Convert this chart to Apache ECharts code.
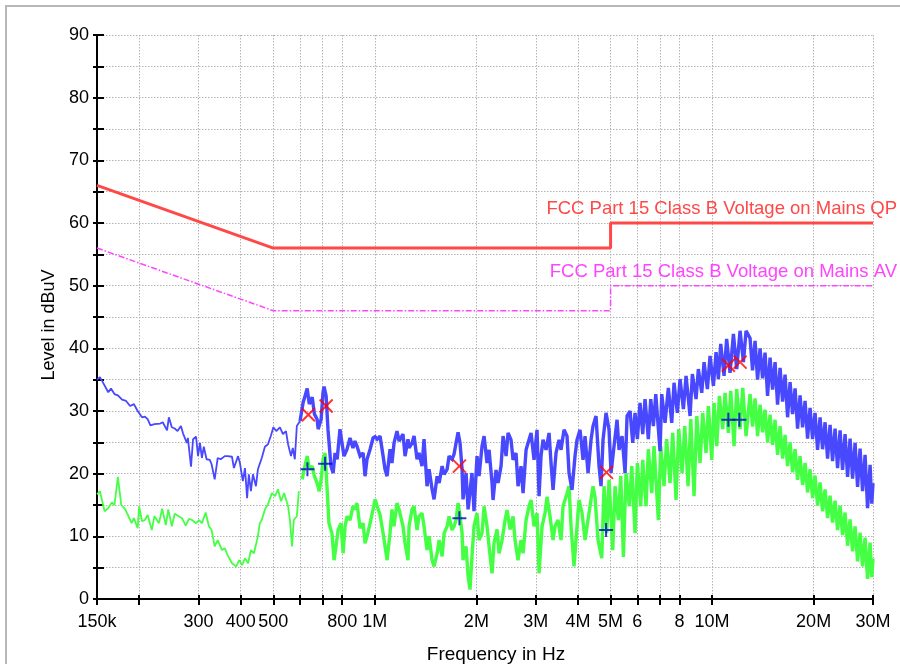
<!DOCTYPE html>
<html><head><meta charset="utf-8">
<script src="https://cdn.jsdelivr.net/npm/echarts@6/dist/echarts.min.js"></script>
<style>
html,body{margin:0;padding:0;background:#fff;}
body{width:900px;height:664px;overflow:hidden;position:relative;}
#frame{position:absolute;left:5px;top:5px;width:940px;height:700px;border-top:2px solid #b8b8b8;border-left:2px solid #b8b8b8;}
#chart{position:absolute;left:0;top:0;width:900px;height:664px;}
</style></head><body>
<div id="frame"></div><div id="chart"></div>
<script>
// ---- tick definitions (frequency in kHz) ----
const xTickKHz = [150,200,300,400,500,600,700,800,1000,2000,3000,4000,5000,6000,7000,8000,10000,20000,30000];
const xTickLabels = ['150k','','300','400','500','','','800','1M','2M','3M','4M','5M','6','','8','10M','20M','30M'];

// ---- limit lines [kHz, dBuV] ----
const qpLimit = [[150,66],[500,56],[5000,56],[5000,60],[30000,60]];
const avLimit = [[150,56],[500,46],[5000,46],[5000,50],[30000,50]];

// ---- peak trace (blue) [kHz, dBuV] ----
const peakSweep = [[150,35],[153,35.4],[156,34.6],[162,33],[165,33.6],[169,32.7],[173,32.5],[178,31.8],[183,31.6],[188,30.8],[193,31.1],[198,30],[204,29],[208,29.1],[212,28.7],[216,27.7],[222,27.9],[231,28],[235,28.2],[242,26.9],[245,29],[250,27.4],[255,27.2],[260,26.8],[266,27.6],[270,26.4],[277,24.9],[279,25.7],[285,21.1],[289,25.5],[295,25.9],[299,22.8],[303,24.9],[307,22.5],[311,24.3],[317,22.3],[324,22.2],[328,21.5],[335,19.1],[342,22.5],[349,22.3],[359,22.8],[366,22.8],[377,22.7],[382,20.9],[393,22.8],[398,21.7],[406,18.8],[412,20.9],[418,16.1],[423,19.9],[429,17.2],[435,19.9],[444,18],[450,20.7],[462,22.5],[472,24.3],[482,24.7],[492,26.1],[500,27.4],[510,26.8],[523,27.4],[534,26.3],[545,26.8],[553,24.7],[564,22.8],[571,24.1],[579,22.3],[587,27.6],[600,28.4],[613,31.4],[621,32.4],[630,33.6],[639,31.1],[652,32.2],[662,29.5],[674,28.7],[679,27.1],[693,28.7],[702,33],[707,33.9],[717,32.4],[726,27.1],[741,21.2],[752,20.1],[762,23.3],[773,22.3],[788,27.1],[799,24.9],[810,22.8],[827,23.9],[844,25.7],[861,24.1],[873,25.2],[885,24.4],[904,22.8],[923,23.3],[935,19.6],[948,22.3],[968,23.9],[988,25.7],[1002,25.9],[1016,25.5],[1036,26],[1058,22.8],[1072,20.7],[1087,19.6],[1109,23.9],[1124,21.7],[1140,24.9],[1163,26.8],[1180,25.2],[1212,26.3],[1229,22.8],[1254,25.5],[1263,24.1],[1289,24.9],[1307,26],[1334,22.3],[1352,23.3],[1380,21.2],[1399,25.5],[1428,18],[1448,20.7],[1478,17.5],[1498,15.9],[1530,19.6],[1551,18.5],[1583,21.2],[1605,19.9],[1638,20.7],[1660,22.8],[1694,22.3],[1717,23.1],[1741,24.9],[1765,26.6],[1789,24.9],[1814,20.7],[1826,15.9],[1864,20.1],[1890,14.3],[1902,14],[1941,20.1],[1968,14],[2009,22.8],[2037,19.6],[2079,24.4],[2108,26],[2151,21.7],[2181,23.8],[2226,18.5],[2241,15.8],[2287,20.6],[2319,18.5],[2367,21.2],[2400,26],[2450,22.8],[2483,26.5],[2534,25.4],[2569,22.2],[2622,23.3],[2658,18],[2713,21.2],[2751,16.9],[2808,23.8],[2865,25.4],[2905,26.5],[2965,22.2],[3026,27],[3068,16.4],[3110,22.8],[3153,25.4],[3218,23.8],[3285,26.5],[3330,21.7],[3376,17.4],[3445,23.3],[3517,25.4],[3565,23.8],[3639,27],[3714,26],[3765,20.1],[3843,17.4],[3922,22.8],[3976,25.4],[4059,27],[4143,22.2],[4200,26],[4287,20.1],[4375,25.4],[4435,27.6],[4527,29.2],[4621,21.2],[4685,18],[4749,25.4],[4848,29.7],[4948,27],[5016,20.1],[5120,24.4],[5226,28.6],[5298,23.8],[5408,26],[5520,20.1],[5596,29.2],[5711,30],[5817,24.9],[5909,29.7],[6003,25.5],[6114,31.3],[6228,26.3],[6326,31.9],[6471,25.5],[6578,31.9],[6697,27.6],[6807,32.7],[7009,23.6],[7091,32.7],[7252,28.1],[7418,33.7],[7592,28.1],[7712,34.5],[7888,29.7],[8035,35.1],[8221,30.3],[8371,35.6],[8603,29.2],[8740,35.9],[8963,31.9],[9105,36.7],[9318,32.9],[9466,37.8],[9683,33.5],[9862,38.8],[10090,34],[10274,39.4],[10438,35.1],[10609,40.7],[10851,35.6],[11044,41.5],[11305,36.1],[11567,42.3],[11830,36.7],[12104,42.8],[12384,37.8],[12610,42.8]];

// ---- average trace (green) [kHz, dBuV] ----
const avgSweep = [[150,16.7],[153,17.2],[158,14],[162,14.5],[166,15.4],[169,15],[173,19.5],[177,15],[182,14.3],[186,13.2],[190,12.1],[193,12.9],[198,11.3],[200,14.8],[204,12.4],[208,12.6],[212,13.4],[218,11],[222,13.2],[229,12.1],[234,14.4],[240,11.8],[244,14.3],[250,11.6],[255,13.6],[262,13.2],[268,12.9],[275,11.7],[281,12.8],[287,12.6],[295,12.1],[301,12.6],[307,12.1],[315,13.8],[322,11.6],[328,11],[335,8.4],[342,9.4],[352,7.8],[359,8.1],[366,7],[377,5.7],[388,5.2],[396,6.2],[404,5.4],[412,6.5],[421,5.7],[429,7.8],[438,7.3],[450,10],[456,12.1],[462,12.6],[472,14.3],[482,15.1],[495,16.9],[506,16.4],[516,17.5],[527,15.6],[538,16.9],[553,14.8],[560,12.6],[568,8.4],[575,12.6],[587,13.2],[595,17.2],[609,19.1],[617,20.7],[630,22.8],[639,20.7],[652,21.2],[662,19.6],[674,18.5],[684,17.2],[693,19.1],[702,22.3],[712,23.3],[721,18],[731,12.1],[746,10.5],[757,6.2],[767,8.4],[778,11],[794,12.1],[805,7.3],[816,11.6],[827,13.2],[844,12.6],[861,14.8],[873,14.3],[885,15.3],[904,11.3],[923,12.1],[935,8.9],[948,10],[968,12.1],[988,14.3],[1002,15.9],[1016,14.8],[1036,13.4],[1058,10.5],[1072,8.4],[1087,6.2],[1109,10.5],[1124,14.3],[1140,11.6],[1163,15.3],[1180,14.3],[1212,11.6],[1229,8.9],[1254,6.2],[1263,11.6],[1289,14.3],[1307,14.8],[1334,11],[1352,13.2],[1380,13.7],[1399,11.6],[1428,7.8],[1448,10],[1478,6.2],[1498,5.2],[1530,7.3],[1551,9.4],[1583,6.8],[1605,10.5],[1638,11.6],[1660,13.2],[1694,11],[1717,11.6],[1741,12.6],[1765,15.3],[1789,13.2],[1814,10.5],[1826,6.2],[1864,8.4],[1890,3.6],[1915,1.5],[1941,6.8],[1968,11.6],[2009,13.7],[2037,9.4],[2079,10.5],[2108,14.8],[2151,11.6],[2181,8.4],[2226,4.1],[2256,8.9],[2303,11.1],[2335,7.3],[2384,9.4],[2433,12.6],[2467,14.2],[2517,11.1],[2569,13.2],[2604,9.4],[2658,6.2],[2713,9.4],[2751,7.3],[2808,12.6],[2865,14.8],[2905,15.8],[2965,11.6],[3026,13.7],[3068,4.1],[3132,11.6],[3196,13.7],[3240,16.3],[3307,13.2],[3376,9.4],[3422,11.6],[3493,12.6],[3565,9.4],[3614,14.8],[3689,16.3],[3765,18],[3817,11.6],[3896,5.2],[3976,11.6],[4031,15.8],[4115,13.7],[4200,9.4],[4258,11.6],[4346,14.8],[4435,18],[4496,16.3],[4590,9.4],[4707,6.5],[4782,18],[4870,10.5],[4948,19],[5075,7.8],[5155,18],[5273,12.6],[5360,19.6],[5457,6.7],[5557,20.1],[5684,14.8],[5778,21.2],[5909,10.5],[6003,21.7],[6143,14.8],[6228,22.2],[6369,14.8],[6471,23.9],[6623,16.9],[6727,24.4],[6928,12.6],[7043,24.4],[7203,18],[7333,25.5],[7504,18.5],[7644,26.5],[7818,15.8],[7965,27.1],[8145,20.1],[8297,27.6],[8486,18],[8645,28.7],[8841,16.4],[9008,29.2],[9211,21.7],[9381,29.7],[9596,23.3],[9749,30.8],[9978,22.2],[10135,31.3],[10323,24.4],[10509,32.4],[10753,27.1],[10925,32.9],[11175,26.5],[11360,33.2],[11618,24.4],[11830,33.5],[12104,27.1],[12329,33.7],[12610,26]];

// ---- high-frequency section, both traces on the same sweep points ----
const hfFreqKHz = [12959,13183,13410,13641,13875,14114,14357,14604,14856,15111,15372,15636,15906,16180,16458,16742,17030,17323,17622,17925,18233,18547,18867,19191,19522,19858,20200,20547,20901,21261,21627,21999,22378,22763,23155,23554,23960,24372,24792,25219,25653,26095,26544,27001,27466,27939,28420,28909,29407,29750,30000];
const hfPeak = [41.6,36.5,41.2,35.0,40.0,35.2,39.3,32.4,38.5,33.4,37.8,31.0,36.9,31.5,35.8,29.0,34.6,29.5,33.6,27.2,32.5,27.4,31.6,25.6,30.5,25.5,29.7,23.8,29.0,23.9,28.2,22.4,27.8,22.0,27.2,20.9,26.9,20.6,26.3,19.5,25.6,19.2,24.9,17.9,24.0,17.2,23.0,14.5,21.4,15.2,18.5];
const hfAvg = [32.7,27.5,32.0,26.0,31.0,26.6,30.2,25.0,29.4,24.6,28.6,23.0,27.6,22.4,26.2,21.2,25.0,20.2,23.9,19.0,22.8,18.2,21.7,17.0,20.7,16.1,19.7,14.9,18.6,14.0,17.5,12.9,16.5,12.2,15.7,11.0,14.9,10.2,13.8,8.5,12.7,7.6,11.6,6.0,10.6,5.2,9.8,3.2,9.0,3.5,6.5];

// ---- final measurement markers [kHz, dBuV] ----
const qpMarks = [[635,29.4],[717,30.8],[1781,21.2],[4862,20.2],[11175,37.3],[12104,37.8]];
const avMarks = [[631,20.7],[712,21.6],[1781,12.9],[4849,11],[11175,28.6],[12046,28.6]];

// sweep split point (kHz): below it the trace is drawn thin, above it the dense part thicker
const denseFromKHz = 600;

const peakData = peakSweep.concat(hfFreqKHz.map((f, i) => [f, hfPeak[i]]));
const avgData = avgSweep.concat(hfFreqKHz.map((f, i) => [f, hfAvg[i]]));
const lowPart = d => d.filter(p => p[0] <= denseFromKHz);
const densePart = d => d.filter(p => p[0] >= denseFromKHz);

const FONT = '"Liberation Sans", Arial, Helvetica, sans-serif';
function tickLabel(v) {
  for (let i = 0; i < xTickKHz.length; i++) {
    if (Math.abs(xTickKHz[i] - v) < xTickKHz[i] * 1e-6) return xTickLabels[i];
  }
  return '';
}
const gridLine = {show: true, lineStyle: {color: '#b4b4b4', width: 1, type: [1.5, 1.5]}};
const tickStyle = {color: '#000', width: 2};
const BLUE = '#4848ff', GREEN = '#44ff44';

const chart = echarts.init(document.getElementById('chart'));
chart.setOption({
  animation: false,
  grid: {left: 97, right: 27, top: 35, bottom: 65, containLabel: false, outerBoundsMode: 'none'},
  xAxis: [
    {type: 'log', logBase: 10, min: 150, max: 30000, position: 'bottom',
     name: 'Frequency in Hz', nameLocation: 'middle', nameGap: 46,
     nameTextStyle: {fontFamily: FONT, fontSize: 19, color: '#000', padding: [0, 0, 0, 22]},
     axisLine: {show: true, onZero: false, lineStyle: {color: '#000', width: 2}},
     axisTick: {show: true, inside: false, length: 6, customValues: xTickKHz, lineStyle: tickStyle},
     axisLabel: {show: true, customValues: xTickKHz, formatter: tickLabel, margin: 14, fontFamily: FONT, fontSize: 18, color: '#000'},
     splitLine: gridLine, minorTick: {show: false}, minorSplitLine: {show: false}},
    {type: 'log', logBase: 10, min: 150, max: 30000, position: 'bottom',
     axisLine: {show: false, onZero: false},
     axisTick: {show: true, inside: true, length: 4, customValues: xTickKHz, lineStyle: tickStyle},
     axisLabel: {show: false}, splitLine: {show: false}}
  ],
  yAxis: [
    {type: 'value', min: 0, max: 90, interval: 5, position: 'left',
     name: 'Level in dBuV', nameLocation: 'middle', nameGap: 39,
     nameTextStyle: {fontFamily: FONT, fontSize: 18, color: '#000', padding: [0, 16, 0, 0]},
     axisLine: {show: true, onZero: false, lineStyle: {color: '#000', width: 2}},
     axisTick: {show: true, inside: false, length: 4, lineStyle: tickStyle},
     axisLabel: {formatter: v => (v % 10 === 0 ? String(v) : ''), margin: 8, fontFamily: FONT, fontSize: 18, color: '#000'},
     splitLine: gridLine},
    {type: 'value', min: 0, max: 90, interval: 5, position: 'left',
     axisLine: {show: false, onZero: false},
     axisTick: {show: true, inside: true, length: 7, lineStyle: tickStyle},
     axisLabel: {show: false}, splitLine: {show: false}}
  ],
  series: [
    {type: 'line', name: 'AV limit', data: avLimit, symbol: 'none', z: 3,
     lineStyle: {color: '#ff44ff', width: 1.5, type: [6, 2, 1.5, 2]}, itemStyle: {color: '#ff44ff'},
     markPoint: {symbol: 'circle', symbolSize: 1, itemStyle: {color: 'rgba(0,0,0,0)'},
       label: {show: true, formatter: 'FCC Part 15 Class B Voltage on Mains AV', position: 'top', distance: 4, align: 'right', offset: [24, 0], color: '#ff44ff', fontFamily: FONT, fontSize: 18.5},
       data: [{coord: avLimit[avLimit.length - 1]}]}},
    {type: 'line', name: 'QP limit', data: qpLimit, symbol: 'none', z: 3,
     lineStyle: {color: '#ff4848', width: 3}, itemStyle: {color: '#ff4848'},
     markPoint: {symbol: 'circle', symbolSize: 1, itemStyle: {color: 'rgba(0,0,0,0)'},
       label: {show: true, formatter: 'FCC Part 15 Class B Voltage on Mains QP', position: 'top', distance: 4, align: 'right', offset: [24, 0], color: '#ff4848', fontFamily: FONT, fontSize: 18.5},
       data: [{coord: qpLimit[qpLimit.length - 1]}]}},
    {type: 'line', name: 'Average', data: lowPart(avgData), symbol: 'none', showSymbol: false, sampling: null, z: 2,
     lineStyle: {color: GREEN, width: 1.8}, itemStyle: {color: GREEN}},
    {type: 'line', name: 'Average', data: densePart(avgData), symbol: 'none', showSymbol: false, sampling: null, z: 2,
     lineStyle: {color: GREEN, width: 3.4, join: 'miter', miterLimit: 2}, itemStyle: {color: GREEN}},
    {type: 'line', name: 'Peak', data: lowPart(peakData), symbol: 'none', showSymbol: false, sampling: null, z: 2,
     lineStyle: {color: BLUE, width: 1.8}, itemStyle: {color: BLUE}},
    {type: 'line', name: 'Peak', data: densePart(peakData), symbol: 'none', showSymbol: false, sampling: null, z: 2,
     lineStyle: {color: BLUE, width: 3.4, join: 'miter', miterLimit: 2}, itemStyle: {color: BLUE}},
    {type: 'scatter', name: 'QP results', data: qpMarks, z: 5,
     symbol: 'path://M0,0L10,10M10,0L0,10', symbolSize: 13,
     itemStyle: {color: 'rgba(0,0,0,0)', borderColor: '#ff0000', borderWidth: 2}},
    {type: 'scatter', name: 'AV results', data: avMarks, z: 5,
     symbol: 'path://M5,0L5,10M0,5L10,5', symbolSize: 14,
     itemStyle: {color: 'rgba(0,0,0,0)', borderColor: '#0000cc', borderWidth: 2}}
  ]
});
</script></body></html>
